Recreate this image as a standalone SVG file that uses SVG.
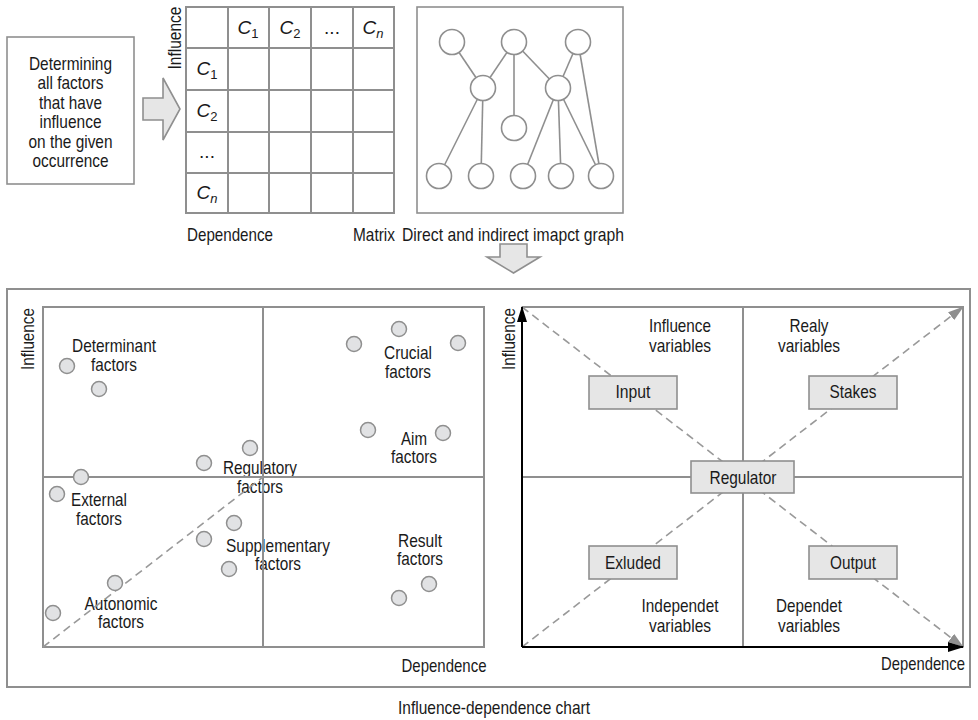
<svg xmlns="http://www.w3.org/2000/svg" width="978" height="720" viewBox="0 0 978 720">
<style>
.t{font-family:"Liberation Sans Narrow","Liberation Sans",Arial,sans-serif;font-size:19px;fill:#1a1a1a}
.m{text-anchor:middle}
.ln{stroke:#8f8f8f;stroke-width:2;fill:none}
.thin{stroke:#8f8f8f;stroke-width:1.6;fill:none}
.gc{fill:#ffffff;stroke:#8f8f8f;stroke-width:1.6}
.dot{fill:#e1e2e4;stroke:#8f8f8f;stroke-width:1.5}
.dash{stroke:#999;stroke-width:1.6;stroke-dasharray:8 5;fill:none}
.box{fill:#e6e6e6;stroke:#8f8f8f;stroke-width:1.6}
.blk{stroke:#000;stroke-width:2;fill:none}
.it{font-style:italic}
.sub{font-size:13px}
</style>
<defs>
<marker id="ab" markerWidth="16" markerHeight="10" refX="15" refY="5" orient="auto" markerUnits="userSpaceOnUse"><path d="M0,0 L16,5 L0,10 Z" fill="#000"/></marker>
<marker id="ag" markerWidth="16" markerHeight="10" refX="15" refY="5" orient="auto" markerUnits="userSpaceOnUse"><path d="M0,0 L16,5 L0,10 Z" fill="#8f8f8f"/></marker>
</defs>

<g id="source-box">
<rect x="7" y="37" width="127" height="147" class="thin"/>
<text class="t m" x="70.5" y="69.5" textLength="83" lengthAdjust="spacingAndGlyphs">Determining</text>
<text class="t m" x="70.5" y="89" textLength="66" lengthAdjust="spacingAndGlyphs">all factors</text>
<text class="t m" x="70.5" y="108.5" textLength="63" lengthAdjust="spacingAndGlyphs">that have</text>
<text class="t m" x="70.5" y="128" textLength="62" lengthAdjust="spacingAndGlyphs">influence</text>
<text class="t m" x="70.5" y="147.5" textLength="84" lengthAdjust="spacingAndGlyphs">on the given</text>
<text class="t m" x="70.5" y="167" textLength="76" lengthAdjust="spacingAndGlyphs">occurrence</text>
</g>

<g id="arrow-right">
<polygon points="143,98 163,98 163,78 180,109 163,140 163,120 143,120" class="box"/>
</g>

<g id="matrix">
<rect x="186" y="7" width="208" height="206" class="ln"/>
<line x1="228" y1="7" x2="228" y2="213" class="ln"/>
<line x1="269" y1="7" x2="269" y2="213" class="ln"/>
<line x1="311" y1="7" x2="311" y2="213" class="ln"/>
<line x1="353" y1="7" x2="353" y2="213" class="ln"/>
<line x1="186" y1="48" x2="394" y2="48" class="ln"/>
<line x1="186" y1="90" x2="394" y2="90" class="ln"/>
<line x1="186" y1="132" x2="394" y2="132" class="ln"/>
<line x1="186" y1="173" x2="394" y2="173" class="ln"/>
<text class="t m" x="248" y="34"><tspan class="it">C</tspan><tspan class="sub" dy="4">1</tspan></text>
<text class="t m" x="290" y="34"><tspan class="it">C</tspan><tspan class="sub" dy="4">2</tspan></text>
<text class="t m" x="332" y="34">...</text>
<text class="t m" x="373" y="34"><tspan class="it">C</tspan><tspan class="sub it" dy="4">n</tspan></text>
<text class="t m" x="207" y="75"><tspan class="it">C</tspan><tspan class="sub" dy="4">1</tspan></text>
<text class="t m" x="207" y="117"><tspan class="it">C</tspan><tspan class="sub" dy="4">2</tspan></text>
<text class="t m" x="207" y="158">...</text>
<text class="t m" x="207" y="199"><tspan class="it">C</tspan><tspan class="sub it" dy="4">n</tspan></text>
<text class="t m" transform="translate(181,38) rotate(-90)" textLength="63" lengthAdjust="spacingAndGlyphs">Influence</text>
<text class="t" x="187" y="241" textLength="86" lengthAdjust="spacingAndGlyphs">Dependence</text>
<text class="t" x="395" y="241" text-anchor="end" textLength="42" lengthAdjust="spacingAndGlyphs">Matrix</text>
</g>

<g id="graph">
<rect x="417" y="7" width="206" height="206" class="thin"/>
<g class="thin">
<line x1="452" y1="42" x2="483" y2="88"/>
<line x1="514" y1="42" x2="483" y2="88"/>
<line x1="514" y1="42" x2="514" y2="128"/>
<line x1="514" y1="42" x2="558" y2="88"/>
<line x1="578" y1="42" x2="558" y2="88"/>
<line x1="578" y1="42" x2="601" y2="176"/>
<line x1="483" y1="88" x2="439" y2="176"/>
<line x1="483" y1="88" x2="481" y2="176"/>
<line x1="558" y1="88" x2="523" y2="176"/>
<line x1="558" y1="88" x2="561" y2="176"/>
<line x1="558" y1="88" x2="601" y2="176"/>
</g>
<circle cx="452" cy="42" r="12.5" class="gc"/>
<circle cx="514" cy="42" r="12.5" class="gc"/>
<circle cx="578" cy="42" r="12.5" class="gc"/>
<circle cx="483" cy="88" r="12.5" class="gc"/>
<circle cx="558" cy="88" r="12.5" class="gc"/>
<circle cx="514" cy="128" r="12.5" class="gc"/>
<circle cx="439" cy="176" r="12.5" class="gc"/>
<circle cx="481" cy="176" r="12.5" class="gc"/>
<circle cx="523" cy="176" r="12.5" class="gc"/>
<circle cx="561" cy="176" r="12.5" class="gc"/>
<circle cx="601" cy="176" r="12.5" class="gc"/>
<text class="t m" x="513" y="241" textLength="222" lengthAdjust="spacingAndGlyphs">Direct and indirect imapct graph</text>
</g>

<g id="arrow-down">
<polygon points="500,244 527,244 527,257 540,257 513.5,273 487,257 500,257" class="box"/>
</g>

<g id="chart-frame">
<rect x="7" y="289" width="963" height="398" class="ln"/>
<text class="t m" x="494" y="714" textLength="192" lengthAdjust="spacingAndGlyphs">Influence-dependence chart</text>
</g>

<g id="left-chart">
<text class="t m" transform="translate(34,339) rotate(-90)" textLength="62" lengthAdjust="spacingAndGlyphs">Influence</text>
<text class="t m" x="444" y="672" textLength="85" lengthAdjust="spacingAndGlyphs">Dependence</text>
<text class="t m" x="114" y="351.5" textLength="84" lengthAdjust="spacingAndGlyphs">Determinant</text>
<text class="t m" x="114" y="370.5" textLength="46" lengthAdjust="spacingAndGlyphs">factors</text>
<text class="t m" x="408" y="359" textLength="48" lengthAdjust="spacingAndGlyphs">Crucial</text>
<text class="t m" x="408" y="378" textLength="46" lengthAdjust="spacingAndGlyphs">factors</text>
<text class="t m" x="414" y="445" textLength="26" lengthAdjust="spacingAndGlyphs">Aim</text>
<text class="t m" x="414" y="463" textLength="46" lengthAdjust="spacingAndGlyphs">factors</text>
<text class="t m" x="260" y="474" textLength="74" lengthAdjust="spacingAndGlyphs">Regulatory</text>
<text class="t m" x="260" y="493" textLength="46" lengthAdjust="spacingAndGlyphs">factors</text>
<text class="t m" x="99" y="506" textLength="56" lengthAdjust="spacingAndGlyphs">External</text>
<text class="t m" x="99" y="525" textLength="46" lengthAdjust="spacingAndGlyphs">factors</text>
<text class="t m" x="278" y="552" textLength="104" lengthAdjust="spacingAndGlyphs">Supplementary</text>
<text class="t m" x="278" y="570" textLength="46" lengthAdjust="spacingAndGlyphs">factors</text>
<text class="t m" x="420" y="547" textLength="44" lengthAdjust="spacingAndGlyphs">Result</text>
<text class="t m" x="420" y="565" textLength="46" lengthAdjust="spacingAndGlyphs">factors</text>
<text class="t m" x="121" y="610" textLength="73" lengthAdjust="spacingAndGlyphs">Autonomic</text>
<text class="t m" x="121" y="628" textLength="46" lengthAdjust="spacingAndGlyphs">factors</text>
<rect x="43" y="307" width="441" height="340" class="ln"/>
<line x1="263" y1="307" x2="263" y2="647" class="ln"/>
<line x1="43" y1="477" x2="484" y2="477" class="ln"/>
<line x1="43" y1="647" x2="263" y2="477" class="dash"/>
<g>
<circle cx="67" cy="366" r="7.5" class="dot"/>
<circle cx="99" cy="389" r="7.5" class="dot"/>
<circle cx="204" cy="463" r="7.5" class="dot"/>
<circle cx="250" cy="448" r="7.5" class="dot"/>
<circle cx="81" cy="477" r="7.5" class="dot"/>
<circle cx="354" cy="344" r="7.5" class="dot"/>
<circle cx="399" cy="329" r="7.5" class="dot"/>
<circle cx="458" cy="343" r="7.5" class="dot"/>
<circle cx="368" cy="430" r="7.5" class="dot"/>
<circle cx="443" cy="433" r="7.5" class="dot"/>
<circle cx="57" cy="494" r="7.5" class="dot"/>
<circle cx="204" cy="539" r="7.5" class="dot"/>
<circle cx="234" cy="523" r="7.5" class="dot"/>
<circle cx="229" cy="569" r="7.5" class="dot"/>
<circle cx="115" cy="583" r="7.5" class="dot"/>
<circle cx="53" cy="613" r="7.5" class="dot"/>
<circle cx="429" cy="584" r="7.5" class="dot"/>
<circle cx="399" cy="598" r="7.5" class="dot"/>
</g>
</g>

<g id="right-chart">
<polyline points="522,307 963,307 963,647" class="ln"/>
<line x1="743" y1="307" x2="743" y2="647" class="ln"/>
<line x1="522" y1="477" x2="963" y2="477" class="ln"/>
<line x1="522" y1="307" x2="963" y2="647" class="dash" marker-end="url(#ag)"/>
<line x1="522" y1="647" x2="963" y2="307" class="dash" marker-end="url(#ag)"/>
<line x1="522" y1="647" x2="522" y2="307" class="blk" marker-end="url(#ab)"/>
<line x1="522" y1="647" x2="963" y2="647" class="blk" marker-end="url(#ab)"/>
<text class="t m" transform="translate(515,339) rotate(-90)" textLength="62" lengthAdjust="spacingAndGlyphs">Influence</text>
<text class="t m" x="923" y="670" textLength="84" lengthAdjust="spacingAndGlyphs">Dependence</text>
<text class="t m" x="680" y="332" textLength="62" lengthAdjust="spacingAndGlyphs">Influence</text>
<text class="t m" x="680" y="352" textLength="62" lengthAdjust="spacingAndGlyphs">variables</text>
<text class="t m" x="809" y="332" textLength="39" lengthAdjust="spacingAndGlyphs">Realy</text>
<text class="t m" x="809" y="352" textLength="62" lengthAdjust="spacingAndGlyphs">variables</text>
<text class="t m" x="680" y="612" textLength="77" lengthAdjust="spacingAndGlyphs">Independet</text>
<text class="t m" x="680" y="632" textLength="62" lengthAdjust="spacingAndGlyphs">variables</text>
<text class="t m" x="809" y="612" textLength="66" lengthAdjust="spacingAndGlyphs">Dependet</text>
<text class="t m" x="809" y="632" textLength="62" lengthAdjust="spacingAndGlyphs">variables</text>
</g>

<g id="node-input"><rect x="589" y="376" width="88" height="33" class="box"/><text class="t m" x="633" y="398" textLength="35" lengthAdjust="spacingAndGlyphs">Input</text></g>
<g id="node-stakes"><rect x="809" y="376" width="88" height="33" class="box"/><text class="t m" x="853" y="398" textLength="47" lengthAdjust="spacingAndGlyphs">Stakes</text></g>
<g id="node-regulator"><rect x="691" y="461" width="103" height="32" class="box"/><text class="t m" x="743" y="483.5" textLength="67" lengthAdjust="spacingAndGlyphs">Regulator</text></g>
<g id="node-exluded"><rect x="589" y="546" width="88" height="33" class="box"/><text class="t m" x="633" y="569" textLength="56" lengthAdjust="spacingAndGlyphs">Exluded</text></g>
<g id="node-output"><rect x="809" y="546" width="88" height="33" class="box"/><text class="t m" x="853" y="569" textLength="46" lengthAdjust="spacingAndGlyphs">Output</text></g>
</svg>
